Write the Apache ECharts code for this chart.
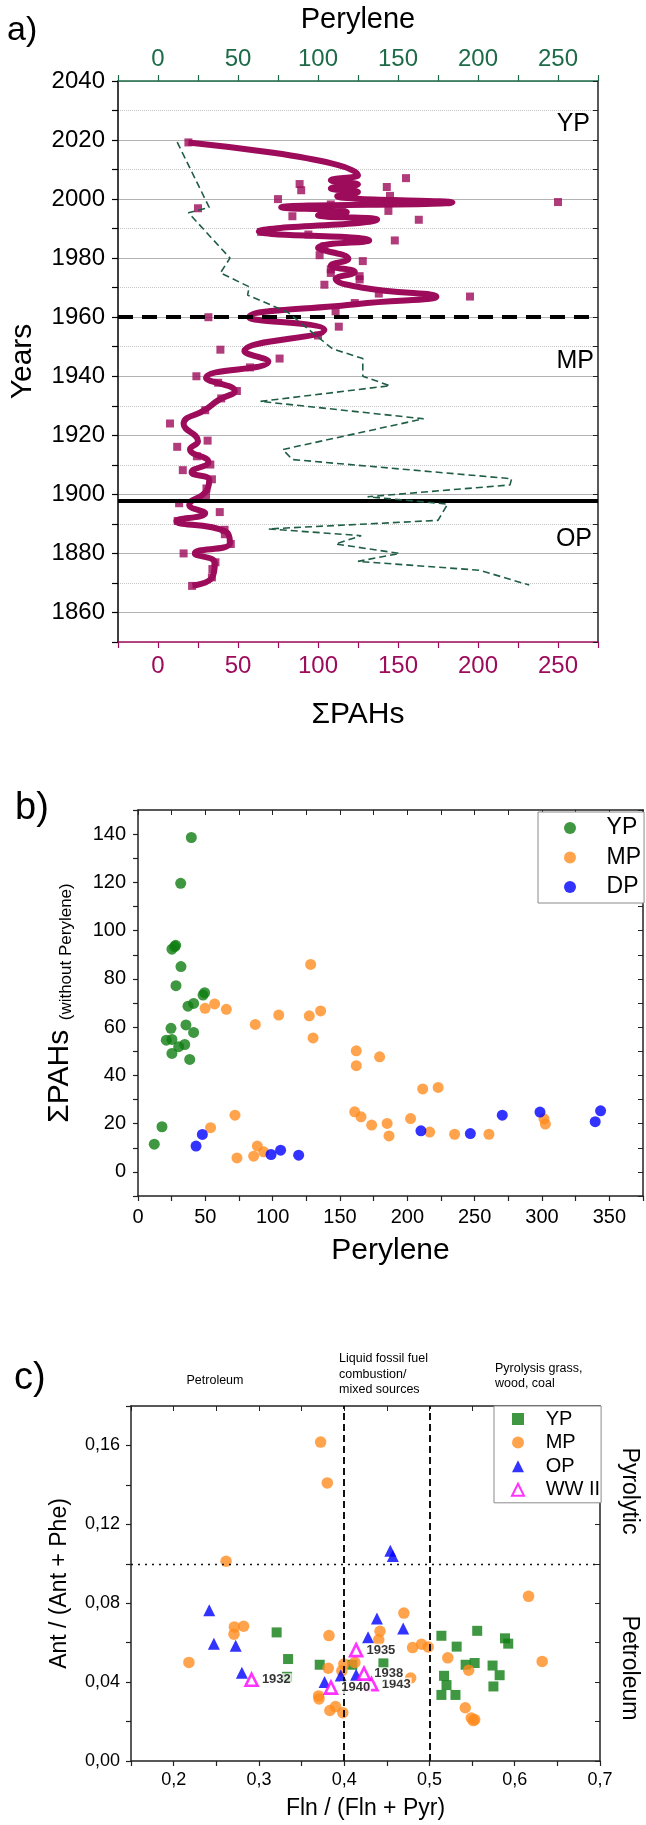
<!DOCTYPE html>
<html><head><meta charset="utf-8">
<script src="https://cdn.jsdelivr.net/npm/echarts@6/dist/echarts.min.js"></script>
<style>
html,body{margin:0;padding:0;background:#fff;}
.ch{position:absolute;left:0;width:646px;}
#a{top:0;height:760px;}
#b{top:760px;height:520px;}
#c{top:1280px;height:545px;}
</style></head><body>
<div id="a" class="ch"></div><div id="b" class="ch"></div><div id="c" class="ch"></div>
<script>
// ---------------- chart a data ----------------
const aSquareYear = [2019.2,2007.1,2005.1,2004.2,2004.1,2003.0,2001.1,2000.0,1999.0,1999.0,1998.2,1996.9,1996.0,1995.5,1994.2,1993.0,1988.9,1988.0,1986.0,1984.0,1981.0,1979.0,1976.2,1975.0,1973.9,1972.8,1971.0,1968.0,1967.0,1964.8,1962.0,1960.0,1956.8,1953.8,1949.0,1946.0,1943.0,1940.0,1937.8,1935.0,1932.5,1928.5,1924.0,1918.2,1916.1,1912.9,1910.1,1908.2,1905.1,1902.0,1899.6,1897.0,1894.0,1891.0,1888.0,1886.5,1883.2,1880.0,1877.0,1874.7,1871.9,1869.0];
const aSquarePAH = [19,155,88.5,113,143,89.5,145,75,250,144,108,25,144,115,84,163,64.5,94,148,104,101,128,108,108,126,126,104,138,195,123,111,31.5,113,100,39,76,57.5,24,37.6,49.3,39.5,29.5,7.5,31,12,24.3,32.7,15.5,33.7,30.3,30,13.2,38.6,12.3,41.6,41.8,45.5,16,35.9,34,33.7,21.3];
const aTrendYear = [2019.2,2008.0,2006.4,2005.0,2003.6,2002.4,2001.0,1998.9,1997.2,1995.6,1994.5,1993.1,1989.0,1986.0,1983.5,1979.8,1977.5,1975.3,1973.0,1970.0,1967.0,1964.5,1960.0,1955.7,1948.5,1945.0,1939.5,1935.0,1932.0,1928.8,1923.8,1918.0,1915.3,1911.0,1907.5,1904.8,1901.0,1896.5,1893.6,1891.0,1887.5,1883.5,1880.0,1876.8,1872.0,1869.1];
const aTrendPAH = [19,125,108,125,108,125,112,184,77,118,100,137,63,132,100,119,108,123,111,128,174,125,57,104,54,69,30,48,38,30,16,25,20,31.5,21,32,30,19.5,29.5,11.5,42,45,23,35.5,34,21.5];
const aPeryleneYear = [2019.3,1997.2,1995.4,1980.0,1975.0,1970.3,1967.5,1961.7,1949.3,1946.0,1940.0,1936.8,1931.5,1925.6,1915.2,1911.8,1905.3,1903.2,1899.2,1896.7,1891.2,1888.3,1886.0,1883.2,1880.0,1877.3,1874.3,1869.3];
const aPerylene = [12,32,19,45,39,57,56,81,109,128,128,145,64,166,78,84,221,220,131,181,175,69,127,111,151,125,201,232];
const aBoundaryDashed = 1960;
const aBoundarySolid = 1898;
const aPeriods = ['YP','MP','OP'];

// ---------------- chart b data ----------------
const bYPx = [39.6,31.7,25.2,27.2,28.0,31.9,28.2,48.3,49.5,41.3,37.1,24.5,35.6,41.3,21.0,25.2,34.7,30.2,25.2,38.4,17.8,12.1];
const bYPy = [138.6,119.6,92.3,93.4,93.9,85.1,77.2,73.3,74.3,69.8,68.7,59.5,60.9,57.8,54.6,54.9,52.8,51.9,49.1,46.6,18.7,11.5];
const bMPx = [49.8,56.9,65.6,87.1,104.5,128.2,127.2,135.6,130.0,53.9,72.0,73.5,85.9,88.6,93.3,162.1,162.1,179.4,211.4,222.9,160.9,165.6,173.5,185.0,186.4,202.4,216.6,235.1,260.6,301.5,302.5];
const bMPy = [67.8,69.6,67.4,61.1,65.0,86.0,64.7,66.7,55.5,18.3,23.5,5.8,6.5,10.7,8.3,50.2,44.0,47.7,34.4,35.0,24.9,22.8,19.4,20.1,14.9,22.1,16.5,15.6,15.6,22.0,19.8];
const bDPx = [43.1,47.8,98.8,105.9,119.3,210.1,246.8,270.5,298.5,339.5,343.5];
const bDPy = [10.7,15.5,7.2,9.0,6.9,17.0,15.9,23.5,24.8,20.8,25.3];

// ---------------- chart c data ----------------
const cYPx = [0.3208,0.3342,0.3330,0.3713,0.4095,0.4460,0.5140,0.5319,0.5560,0.5424,0.5530,0.5740,0.5823,0.5750,0.5886,0.5924,0.5171,0.5200,0.5140,0.5305];
const cYPy = [0.0652,0.0517,0.0427,0.0488,0.0488,0.0495,0.0635,0.0580,0.0660,0.0488,0.0497,0.0484,0.0435,0.0378,0.0622,0.0595,0.0432,0.0385,0.0335,0.0335];
const cMPx = [0.3724,0.3802,0.2615,0.2179,0.2712,0.2821,0.2708,0.4700,0.4420,0.4405,0.3822,0.4802,0.4907,0.4985,0.5215,0.5460,0.3813,0.3996,0.3973,0.4125,0.4780,0.3700,0.3705,0.3832,0.3898,0.3984,0.5420,0.5490,0.5514,0.5530,0.6162,0.6322];
const cMPy = [0.1617,0.1410,0.1013,0.0500,0.0680,0.0683,0.0643,0.0750,0.0658,0.0615,0.0636,0.0575,0.0592,0.0578,0.0523,0.0460,0.0470,0.0492,0.0457,0.0500,0.0421,0.0330,0.0315,0.0256,0.0276,0.0245,0.0270,0.0218,0.0205,0.0210,0.0835,0.0505];
const cOPx = [0.2418,0.2472,0.2728,0.2800,0.4541,0.4570,0.4384,0.4692,0.4280,0.3770,0.3960,0.4140];
const cOPy = [0.0765,0.0595,0.0585,0.0447,0.1066,0.1040,0.0722,0.0672,0.0628,0.0400,0.0433,0.0437];
const cWWx = [0.2914,0.4140,0.4320,0.4232,0.3845];
const cWWy = [0.0412,0.0562,0.0390,0.0443,0.0372];
const cWWyear = ['1932','1935','1943','1938','1940'];
const cSourceBounds = [0.4, 0.5];
const cPyroThreshold = 0.1;

// ---------------- helpers ----------------
const FONT = '"Liberation Sans", Arial, Helvetica, sans-serif';
const MAG = '#9d0b5b', GRN = '#1d6b48', DASHGRN = '#1f5e44';
const C_GREEN = '#0f7d12', C_ORANGE = '#ff8c1f', C_BLUE = '#0000ff', C_PINK = '#ff00ff';
const zip = (xs, ys) => xs.map((x, i) => [x, ys[i]]);
const near = (a, b) => Math.abs(a - b) < 1e-6;

// ================= chart a =================
const chA = echarts.init(document.getElementById('a'));
chA.setOption({
  animation: false,
  textStyle: {fontFamily: FONT},
  grid: {left: 110, top: 79, width: 488, height: 563},
  xAxis: [
    {type: 'value', position: 'bottom', min: -25, max: 275, interval: 25,
     axisLine: {show: true, onZero: false, lineStyle: {color: MAG, width: 1.5}},
     axisTick: {show: true, length: 6, lineStyle: {color: MAG, width: 1.2}},
     axisLabel: {color: MAG, fontSize: 24, margin: 12, fontFamily: FONT,
                 formatter: v => (near(v % 50, 0) ? String(v) : '')},
     splitLine: {show: false},
     name: 'ΣPAHs', nameLocation: 'middle', nameGap: 58,
     nameTextStyle: {fontSize: 30, color: '#000', fontFamily: FONT}},
    {type: 'value', position: 'top', min: -25, max: 275, interval: 25,
     axisLine: {show: true, onZero: false, lineStyle: {color: GRN, width: 1.5}},
     axisTick: {show: true, length: 6, lineStyle: {color: GRN, width: 1.2}},
     axisLabel: {color: GRN, fontSize: 24, margin: 10, fontFamily: FONT,
                 formatter: v => (near(v % 50, 0) ? String(v) : '')},
     splitLine: {show: false},
     name: 'Perylene', nameLocation: 'middle', nameGap: 47,
     nameTextStyle: {fontSize: 29, color: '#000', fontFamily: FONT}}
  ],
  yAxis: [
    {type: 'value', position: 'left', min: 1850, max: 2040, interval: 10,
     axisLine: {show: true, onZero: false, lineStyle: {color: '#000', width: 1.5}},
     axisTick: {show: true, length: 6, lineStyle: {color: '#000', width: 1.2}},
     axisLabel: {color: '#000', fontSize: 24, margin: 13, fontFamily: FONT,
                 formatter: v => (near(v % 20, 0) ? String(v) : '')},
     splitLine: {show: true, lineStyle: {color: ['rgba(0,0,0,0)', '#b2b2b2'], width: 1.2}},
     name: 'Years', nameLocation: 'middle', nameGap: 80,
     nameTextStyle: {fontSize: 30, color: '#000', fontFamily: FONT}},
    {type: 'value', position: 'right', min: 1850, max: 2040, interval: 10,
     axisLine: {show: true, onZero: false, lineStyle: {color: '#222', width: 1.5}},
     axisTick: {show: true, inside: true, length: 5, lineStyle: {color: '#222'}},
     axisLabel: {show: false}, splitLine: {show: false}},
    {type: 'value', position: 'right', min: 1850, max: 2040, interval: 20,
     axisLine: {show: false}, axisTick: {show: false}, axisLabel: {show: false},
     splitLine: {show: true, lineStyle: {color: '#c6c6c6', type: 'dotted', width: 1}}}
  ],
  series: [
    {type: 'line', name: 'trend', xAxisIndex: 0, yAxisIndex: 0, data: zip(aTrendPAH, aTrendYear),
     smooth: 0.5, symbol: 'none', lineStyle: {color: MAG, width: 6}, z: 3,
     markLine: {silent: true, symbol: 'none', label: {show: false},
       data: [
         {yAxis: aBoundaryDashed, lineStyle: {color: '#000', width: 4, type: [15, 9]}},
         {yAxis: aBoundarySolid, lineStyle: {color: '#000', width: 4, type: 'solid'}}
       ]}},
    {type: 'scatter', name: 'ΣPAHs', xAxisIndex: 0, yAxisIndex: 0, data: zip(aSquarePAH, aSquareYear),
     symbol: 'rect', symbolSize: 8, itemStyle: {color: MAG}, z: 4},
    {type: 'line', name: 'Perylene', xAxisIndex: 1, yAxisIndex: 0, data: zip(aPerylene, aPeryleneYear),
     symbol: 'none', lineStyle: {color: DASHGRN, width: 1.6, type: [7, 4]}, z: 5}
  ],
  graphic: [
    {type: 'text', left: 7, top: 14, style: {text: 'a)', fontSize: 34, fill: '#000', fontFamily: FONT}},
    {type: 'text', x: 590, y: 124, style: {text: aPeriods[0], fontSize: 25, fill: '#000', fontFamily: FONT, align: 'right', verticalAlign: 'middle'}},
    {type: 'text', x: 594, y: 361, style: {text: aPeriods[1], fontSize: 25, fill: '#000', fontFamily: FONT, align: 'right', verticalAlign: 'middle'}},
    {type: 'text', x: 592, y: 539, style: {text: aPeriods[2], fontSize: 25, fill: '#000', fontFamily: FONT, align: 'right', verticalAlign: 'middle'}}
  ]
});

// ================= chart b =================
const chB = echarts.init(document.getElementById('b'));
const boxAxis = (extra) => Object.assign({
  type: 'value',
  axisLine: {show: true, onZero: false, lineStyle: {color: '#222', width: 1.5}},
  axisTick: {show: true, length: 5, lineStyle: {color: '#222', width: 1.2}},
  splitLine: {show: false}
}, extra);
chB.setOption({
  animation: false,
  textStyle: {fontFamily: FONT},
  grid: {left: 138, top: 50, width: 505, height: 386},
  legend: {orient: 'vertical', left: 538, top: 52, itemWidth: 12, itemHeight: 12, itemGap: 5.5,
           padding: [4, 3, 4, 26], borderColor: '#8a8a8a', borderWidth: 1, backgroundColor: '#fff',
           formatter: n => '    ' + n,
           textStyle: {fontSize: 23, lineHeight: 24, color: '#000', fontFamily: FONT},
           data: ['YP', 'MP', 'DP']},
  xAxis: [
    boxAxis({position: 'bottom', min: 0, max: 375, interval: 25,
      axisLabel: {fontSize: 20, color: '#000', margin: 11, fontFamily: FONT,
                  formatter: v => (near(v % 50, 0) ? String(v) : '')},
      name: 'Perylene', nameLocation: 'middle', nameGap: 40,
      nameTextStyle: {fontSize: 30, color: '#000', fontFamily: FONT}}),
    boxAxis({position: 'top', min: 0, max: 375, interval: 25,
      axisTick: {show: true, inside: true, length: 5, lineStyle: {color: '#222'}}, axisLabel: {show: false}})
  ],
  yAxis: [
    boxAxis({position: 'left', min: -10, max: 150, interval: 10,
      axisLabel: {fontSize: 20, color: '#000', margin: 12, fontFamily: FONT,
                  formatter: v => (near(v % 20, 0) ? String(v) : '')},
      name: '{a|ΣPAHs}{b|  (without Perylene)}', nameLocation: 'middle', nameGap: 63,
      nameTextStyle: {color: '#000', fontFamily: FONT, rich: {
        a: {fontSize: 30, lineHeight: 34, verticalAlign: 'bottom', fontFamily: FONT, color: '#000'},
        b: {fontSize: 17, lineHeight: 24, verticalAlign: 'bottom', fontFamily: FONT, color: '#000'}}}}),
    boxAxis({position: 'right', min: -10, max: 150, interval: 10,
      axisTick: {show: true, inside: true, length: 5, lineStyle: {color: '#222'}}, axisLabel: {show: false}})
  ],
  series: [
    {type: 'scatter', name: 'YP', data: zip(bYPx, bYPy), symbol: 'circle', symbolSize: 11, itemStyle: {color: C_GREEN}},
    {type: 'scatter', name: 'MP', data: zip(bMPx, bMPy), symbol: 'circle', symbolSize: 11, itemStyle: {color: C_ORANGE}},
    {type: 'scatter', name: 'DP', data: zip(bDPx, bDPy), symbol: 'circle', symbolSize: 11, itemStyle: {color: C_BLUE}}
  ],
  graphic: [
    {type: 'text', left: 15, top: 30, style: {text: 'b)', fontSize: 38, fill: '#000', fontFamily: FONT}}
  ]
});

// ================= chart c =================
const chC = echarts.init(document.getElementById('c'));
const comma = (v, d) => v.toFixed(d).replace('.', ',');
chC.setOption({
  animation: false,
  textStyle: {fontFamily: FONT},
  grid: {left: 131, top: 126, width: 469, height: 356},
  legend: {orient: 'vertical', left: 494, top: 126, itemWidth: 12, itemHeight: 12, itemGap: 3.6,
           padding: [3, 1, 3, 17], borderColor: '#8a8a8a', borderWidth: 1, backgroundColor: '#fff',
           formatter: n => '   ' + n,
           textStyle: {fontSize: 20, lineHeight: 20, color: '#000', fontFamily: FONT},
           data: ['YP', 'MP', 'OP', 'WW II']},
  xAxis: [
    boxAxis({position: 'bottom', min: 0.15, max: 0.7, interval: 0.05,
      axisLabel: {fontSize: 18, color: '#000', margin: 10, fontFamily: FONT,
        formatter: v => (near(v * 10, Math.round(v * 10)) ? comma(v, 1) : '')},
      name: 'Fln / (Fln + Pyr)', nameLocation: 'middle', nameGap: 36,
      nameTextStyle: {fontSize: 23, color: '#000', fontFamily: FONT}}),
    boxAxis({position: 'top', min: 0.15, max: 0.7, interval: 0.05,
      axisTick: {show: true, inside: true, length: 5, lineStyle: {color: '#222'}}, axisLabel: {show: false}})
  ],
  yAxis: [
    boxAxis({position: 'left', min: 0, max: 0.18, interval: 0.02,
      axisLabel: {fontSize: 18, color: '#000', margin: 11, fontFamily: FONT,
        formatter: v => (Math.round(v * 100) % 4 === 0 ? comma(v, 2) : '')},
      name: 'Ant / (Ant + Phe)', nameLocation: 'middle', nameGap: 60,
      nameTextStyle: {fontSize: 23, color: '#000', fontFamily: FONT}}),
    boxAxis({position: 'right', min: 0, max: 0.18, interval: 0.02,
      axisTick: {show: true, inside: true, length: 5, lineStyle: {color: '#222'}}, axisLabel: {show: false}})
  ],
  series: [
    {type: 'scatter', name: 'YP', data: zip(cYPx, cYPy), symbol: 'rect', symbolSize: 10, itemStyle: {color: C_GREEN}, z: 2,
     markLine: {silent: true, symbol: 'none', label: {show: false},
       data: [
         {xAxis: cSourceBounds[0], lineStyle: {color: '#111', width: 2, type: [7, 4]}},
         {xAxis: cSourceBounds[1], lineStyle: {color: '#111', width: 2, type: [7, 4]}},
         {yAxis: cPyroThreshold, lineStyle: {color: '#111', width: 1.4, type: [2, 5]}}
       ]}},
    {type: 'scatter', name: 'MP', data: zip(cMPx, cMPy), symbol: 'circle', symbolSize: 11.5, itemStyle: {color: C_ORANGE}, z: 3},
    {type: 'scatter', name: 'OP', data: zip(cOPx, cOPy), symbol: 'triangle', symbolSize: 12, itemStyle: {color: C_BLUE}, z: 4},
    {type: 'scatter', name: 'WW II', data: zip(cWWx, cWWy), symbol: 'triangle', symbolSize: 12,
     itemStyle: {color: '#fff', borderColor: C_PINK, borderWidth: 2.6}, z: 6,
     label: {show: true, position: 'right', distance: 2, formatter: p => cWWyear[p.dataIndex],
             fontSize: 13, fontWeight: 'bold', color: '#000', fontFamily: FONT,
             backgroundColor: '#fff', padding: [0, 1, 0, 1]}}
  ],
  graphic: [
    {type: 'text', left: 14, top: 80, style: {text: 'c)', fontSize: 38, fill: '#000', fontFamily: FONT}},
    {type: 'text', x: 215, y: 101, style: {text: 'Petroleum', fontSize: 12.5, fill: '#000', fontFamily: FONT, align: 'center', verticalAlign: 'middle'}},
    {type: 'text', x: 339, y: 71, style: {text: 'Liquid fossil fuel\ncombustion/\nmixed sources', fontSize: 12.5, lineHeight: 15.5, fill: '#000', fontFamily: FONT, align: 'left', verticalAlign: 'top'}},
    {type: 'text', x: 495, y: 80.5, style: {text: 'Pyrolysis grass,\nwood, coal', fontSize: 12.5, lineHeight: 15.5, fill: '#000', fontFamily: FONT, align: 'left', verticalAlign: 'top'}},
    {type: 'text', x: 629, y: 211, rotation: -Math.PI / 2, style: {text: 'Pyrolytic', fontSize: 23, fill: '#000', fontFamily: FONT, align: 'center', verticalAlign: 'middle'}},
    {type: 'text', x: 629, y: 388, rotation: -Math.PI / 2, style: {text: 'Petroleum', fontSize: 23, fill: '#000', fontFamily: FONT, align: 'center', verticalAlign: 'middle'}}
  ]
});
</script>
</body></html>
